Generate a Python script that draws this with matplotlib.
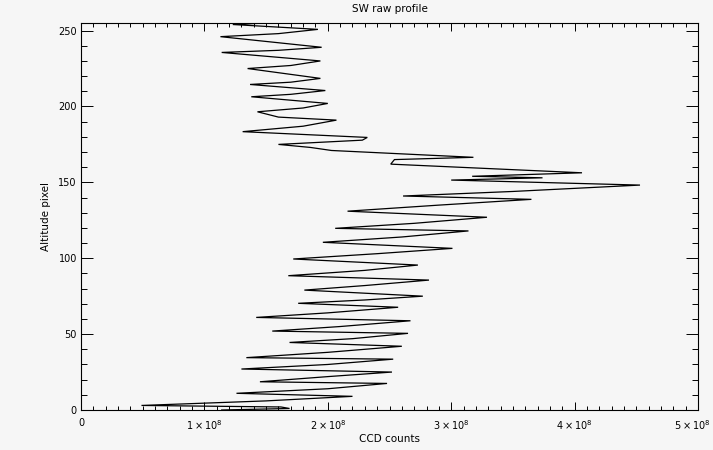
import matplotlib
matplotlib.use("Agg")
import matplotlib.pyplot as plt
import matplotlib.transforms as mtransforms
from matplotlib.ticker import MultipleLocator

# Profile vertices: altitude pixel and CCD counts (units of 1e8)
altitude = [0, 1, 2, 3, 6, 9, 11, 14, 17.5, 18.6, 22, 25, 27, 30, 33.5, 34.5,
            38, 42, 44.5, 47, 50.5, 52, 55, 58.8, 61, 64, 67.7, 70.3, 72.5, 75,
            79, 82, 85.6, 88.5, 92, 95.5, 99.5, 103, 106.5, 110.5, 114, 118,
            119.7, 123, 127, 131, 135, 138.8, 141, 144, 148.2, 151.5, 153, 154,
            156.3, 162, 165, 166.5, 171, 173, 175, 177.8, 179.6, 183.4, 187,
            191, 193, 196.5, 199, 202, 206.4, 208, 210.5, 214.5, 216, 218.5,
            225, 227, 230, 235.6, 237, 239, 246, 248, 250.8, 254, 255]
counts_e8 = [1.14, 1.69, 1.62, 0.49, 1.5, 2.2, 1.26, 2.0, 2.48, 1.45, 2.0, 2.52,
             1.30, 2.0, 2.53, 1.34, 2.0, 2.6, 1.69, 2.2, 2.65, 1.55, 2.1, 2.67,
             1.42, 2.0, 2.57, 1.76, 2.3, 2.77, 1.81, 2.3, 2.82, 1.68, 2.3, 2.73,
             1.72, 2.4, 3.01, 1.96, 2.6, 3.14, 2.06, 2.7, 3.29, 2.16, 2.9, 3.65,
             2.61, 3.5, 4.53, 3.0, 3.74, 3.17, 4.06, 2.51, 2.54, 3.18, 2.03, 1.86,
             1.6, 2.28, 2.32, 1.31, 1.8, 2.07, 1.6, 1.43, 1.8, 2.0, 1.38, 1.7,
             1.98, 1.37, 1.7, 1.94, 1.35, 1.7, 1.94, 1.14, 1.6, 1.95, 1.13, 1.6,
             1.92, 1.23, 1.5]

x_major = [0, 1e8, 2e8, 3e8, 4e8, 5e8]
x_labels = ["0", r"$1\times10^{8}$", r"$2\times10^{8}$", r"$3\times10^{8}$",
            r"$4\times10^{8}$", r"$5\times10^{8}$"]

bg = "#f6f6f6"
fig = plt.figure(figsize=(7.13, 4.5), dpi=100, facecolor=bg)
ax = fig.add_axes([81 / 713, 40 / 450, 617 / 713, 387 / 450], facecolor=bg)

counts = [c * 1e8 for c in counts_e8]
ax.plot(counts, altitude, color="black", lw=0.9, solid_joinstyle="miter")

ax.set_xlim(0, 5e8)
ax.set_ylim(0, 255)
ax.set_xticks(x_major)
ax.set_xticklabels(x_labels)
ax.xaxis.set_minor_locator(MultipleLocator(1e7))
ax.yaxis.set_major_locator(MultipleLocator(50))
ax.yaxis.set_minor_locator(MultipleLocator(10))

for s in ax.spines.values():
    s.set_linewidth(0.8)
    s.set_color("black")

ax.tick_params(axis="x", which="major", direction="in", length=5.5, width=0.7,
               top=True, bottom=True, labelsize=7, pad=6)
ax.tick_params(axis="x", which="minor", direction="in", length=2.8, width=0.7,
               top=True, bottom=True)
ax.tick_params(axis="y", which="major", direction="in", length=8.9, width=0.7,
               left=True, right=True, labelsize=7, pad=3)
ax.tick_params(axis="y", which="minor", direction="in", length=4.4, width=0.7,
               left=True, right=True)

# keep the last x label inside the figure edge
last = ax.get_xticklabels()[-1]
last.set_transform(last.get_transform() +
                   mtransforms.ScaledTranslation(-4 / 72, 0, fig.dpi_scale_trans))

ax.set_title("SW raw profile", fontsize=7.5, pad=8)
ax.set_xlabel("CCD counts", fontsize=7.5, labelpad=1)
ax.set_ylabel("Altitude pixel", fontsize=7.5, labelpad=5)

fig.savefig("out.png", dpi=100, facecolor=bg)
